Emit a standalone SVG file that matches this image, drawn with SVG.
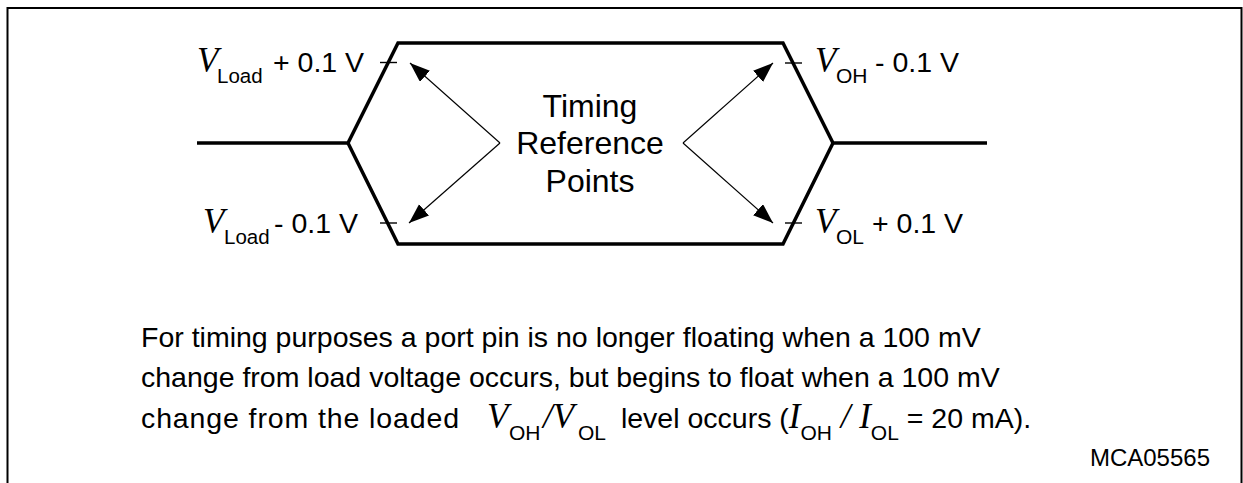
<svg xmlns="http://www.w3.org/2000/svg" width="1243" height="483" viewBox="0 0 1243 483">
<style>
.s{font-family:"Liberation Sans",Arial,sans-serif;fill:#000}
.v{font-family:"Liberation Serif","Times New Roman",serif;font-style:italic;fill:#000}
.wave{fill:none;stroke:#000;stroke-width:3.5;stroke-linejoin:miter}
.tick{stroke:#000;stroke-width:1.4}
.arr{stroke:#000;stroke-width:1.2;fill:none}
</style>
<defs>
<marker id="ah" markerUnits="userSpaceOnUse" markerWidth="22" markerHeight="16" refX="20" refY="7.5" orient="auto">
<path d="M0,0 L20,7.5 L0,15 z" fill="#000"/>
</marker>
</defs>
<rect width="1243" height="483" fill="#fff"/>
<path d="M7.5,483 V8 H1241.5 V483" fill="none" stroke="#000" stroke-width="2"/>
<g id="waveform">
<path class="wave" d="M197,143 H348 L398,43 H783 L833,143 H987"/>
<path class="wave" d="M348,143 L398,244 H783 L833,143"/>
<line class="tick" x1="380" y1="62.5" x2="397" y2="62.5"/>
<line class="tick" x1="380" y1="223" x2="397" y2="223"/>
<line class="tick" x1="785" y1="63" x2="802" y2="63"/>
<line class="tick" x1="785" y1="223" x2="802" y2="223"/>
</g>
<g id="connectors">
<line class="arr" x1="500" y1="143" x2="410" y2="63" marker-end="url(#ah)"/>
<line class="arr" x1="500" y1="143" x2="409" y2="223" marker-end="url(#ah)"/>
<line class="arr" x1="683" y1="143" x2="773" y2="63" marker-end="url(#ah)"/>
<line class="arr" x1="683" y1="143" x2="773" y2="223" marker-end="url(#ah)"/>
</g>
<g id="label-timing">
<text class="s" font-size="32" text-anchor="middle"><tspan x="590" y="117">Timing</tspan><tspan x="590" y="154">Reference</tspan><tspan x="590" y="192">Points</tspan></text>
</g>
<g id="label-vload-plus">
<text class="v" x="197" y="72" font-size="35">V</text>
<text class="s" x="217" y="83" font-size="20.5">Load</text>
<text class="s" x="273" y="72" font-size="28.5">+ 0.1 V</text>
</g>
<g id="label-vload-minus">
<text class="v" x="203" y="233" font-size="35">V</text>
<text class="s" x="224" y="244" font-size="20.5">Load</text>
<text class="s" x="274" y="233" font-size="28.5">- 0.1 V</text>
</g>
<g id="label-voh">
<text class="v" x="815" y="72" font-size="35">V</text>
<text class="s" x="836" y="83" font-size="21">OH</text>
<text class="s" x="875" y="72" font-size="28.5">- 0.1 V</text>
</g>
<g id="label-vol">
<text class="v" x="815" y="233" font-size="35">V</text>
<text class="s" x="836" y="244" font-size="21">OL</text>
<text class="s" x="872" y="233" font-size="28.5">+ 0.1 V</text>
</g>
<g id="note">
<text class="s" x="141" y="347" font-size="28.5">For timing purposes a port pin is no longer floating when a 100 mV</text>
<text class="s" x="141" y="387" font-size="28.5">change from load voltage occurs, but begins to float when a 100 mV</text>
<text class="s" font-size="28.5"><tspan x="141" y="428" textLength="318" lengthAdjust="spacing">change from the loaded</tspan><tspan class="v" x="487" y="428" font-size="35">V</tspan><tspan x="509" y="440" font-size="21">OH</tspan><tspan class="v" x="543" y="428" font-size="35">/V</tspan><tspan x="578" y="440" font-size="21">OL</tspan><tspan x="613" y="428"> level occurs (</tspan><tspan class="v" y="428" font-size="35">I</tspan><tspan y="440" font-size="21">OH</tspan><tspan class="v" y="428" font-size="35"> / I</tspan><tspan y="440" font-size="21">OL</tspan><tspan y="428"> = 20 mA).</tspan></text>
<text class="s" x="1210" y="466" font-size="24" text-anchor="end">MCA05565</text>
</g>
</svg>
